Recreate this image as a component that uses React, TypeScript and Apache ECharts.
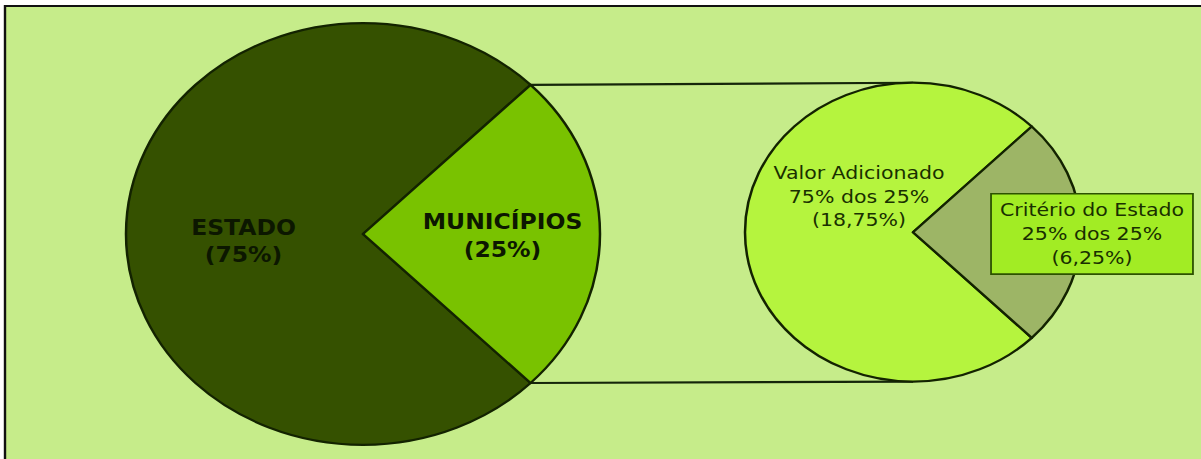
import React, { useEffect, useRef } from "react";
import * as echarts from "echarts";

// ---- data ----
const mainCategories = ["ESTADO", "MUNICÍPIOS"];
const mainValues = [75, 25];
const subCategories = ["Valor Adicionado", "Critério do Estado"];
const subValues = [75, 25]; // share of the municipal part (%)
const parentIndex = 1; // the sub pie splits "MUNICÍPIOS"

// ---- layout (chart is drawn taller and squeezed vertically into an ellipse look) ----
const W = 1201;
const H = 459;
const K = 1.1242; // vertical stretch factor of the pies
const HI = Math.round(H * K);

const leftCenter = [363, 263];
const leftRadius = 237;
const rightCenter = [913, 261];
const rightRadius = 168;

const leftLabelOffsets = [
  { dx: 2, dy: 8 },
  { dx: 18, dy: 2 },
];
const rightLabelOffsets = [
  { dx: 33, dy: -40 },
  { dx: 92, dy: 2 },
];

const fmtComma = (v: number) => v.toFixed(2).replace(".", ",");

export default function App() {
  const ref = useRef<HTMLDivElement>(null);

  useEffect(() => {
    if (!ref.current) return;
    const chart = echarts.init(ref.current, undefined, { renderer: "svg" });

    const parentValue = mainValues[parentIndex];
    const mainData = mainCategories.map((name, i) => ({
      name,
      value: mainValues[i],
      itemStyle: { color: i === 0 ? "#355100" : "#79c200" },
    }));
    const subData = subCategories.map((name, i) => ({
      name,
      value: subValues[i],
      itemStyle: { color: i === 0 ? "#b5f43e" : "#9db566" },
      label:
        i === 1
          ? {
              backgroundColor: "#a2ec24",
              borderColor: "#2c5200",
              borderWidth: 1.8,
              padding: [5, 8, 4, 8],
            }
          : {},
    }));

    const total = mainValues.reduce((a, b) => a + b, 0);
    const startAngle = -45;
    // the corners of the parent slice, for the connector lines
    let acc = 0;
    for (let i = 0; i < parentIndex; i++) acc += mainValues[i];
    const a1 = ((startAngle - (acc / total) * 360) * Math.PI) / 180;
    const a2 = ((startAngle - ((acc + parentValue) / total) * 360) * Math.PI) / 180;
    const p1 = [
      leftCenter[0] + leftRadius * Math.cos(a1),
      leftCenter[1] - leftRadius * Math.sin(a1),
    ];
    const p2 = [
      leftCenter[0] + leftRadius * Math.cos(a2),
      leftCenter[1] - leftRadius * Math.sin(a2),
    ];
    const topP = p1[1] < p2[1] ? p1 : p2;
    const botP = p1[1] < p2[1] ? p2 : p1;

    const lineStyle = { stroke: "#15260a", lineWidth: 2.4 };

    chart.setOption({
      animation: false,
      backgroundColor: "#ffffff",
      graphic: [
        {
          type: "rect",
          z: -10,
          shape: { x: 5, y: 6.7, width: W + 50, height: HI + 50 },
          style: { fill: "#c6ec8a", stroke: "#111111", lineWidth: 2.4 },
        },
        {
          type: "line",
          z: 1,
          shape: { x1: topP[0], y1: topP[1], x2: rightCenter[0], y2: rightCenter[1] - rightRadius },
          style: lineStyle,
        },
        {
          type: "line",
          z: 1,
          shape: { x1: botP[0], y1: botP[1], x2: rightCenter[0], y2: rightCenter[1] + rightRadius },
          style: lineStyle,
        },
      ],
      series: [
        {
          type: "pie",
          center: leftCenter,
          radius: leftRadius,
          startAngle,
          clockwise: true,
          avoidLabelOverlap: false,
          silent: true,
          z: 3,
          itemStyle: { borderColor: "#132300", borderWidth: 2.5 },
          label: {
            show: true,
            position: "inside",
            fontFamily: "DejaVu Sans",
            fontWeight: "bold",
            fontSize: 23.5,
            lineHeight: 31,
            color: "#0c1700",
            textBorderWidth: 0,
            align: "center",
            formatter: (p: any) => `${p.name}\n(${p.value}%)`,
          },
          labelLine: { show: false },
          labelLayout: (p: any) => leftLabelOffsets[p.dataIndex],
          emphasis: { disabled: true },
          data: mainData,
        },
        {
          type: "pie",
          center: rightCenter,
          radius: rightRadius,
          startAngle,
          clockwise: true,
          avoidLabelOverlap: false,
          silent: true,
          z: 3,
          itemStyle: { borderColor: "#132300", borderWidth: 2.5 },
          label: {
            show: true,
            position: "inside",
            fontFamily: "DejaVu Sans",
            fontSize: 20.5,
            lineHeight: 26.5,
            color: "#193000",
            textBorderWidth: 0,
            align: "center",
            formatter: (p: any) =>
              `${p.name}\n${p.value}% dos ${parentValue}%\n(${fmtComma((p.value * parentValue) / 100)}%)`,
          },
          labelLine: { show: false },
          labelLayout: (p: any) => rightLabelOffsets[p.dataIndex],
          emphasis: { disabled: true },
          data: subData,
        },
      ],
    });

    return () => chart.dispose();
  }, []);

  return (
    <div
      style={{
        position: "fixed",
        left: 0,
        top: 0,
        width: W,
        height: H,
        overflow: "hidden",
        background: "#ffffff",
      }}
    >
      <div
        ref={ref}
        style={{
          width: W,
          height: HI,
          transform: `scaleY(${H / HI})`,
          transformOrigin: "0 0",
        }}
      />
    </div>
  );
}
